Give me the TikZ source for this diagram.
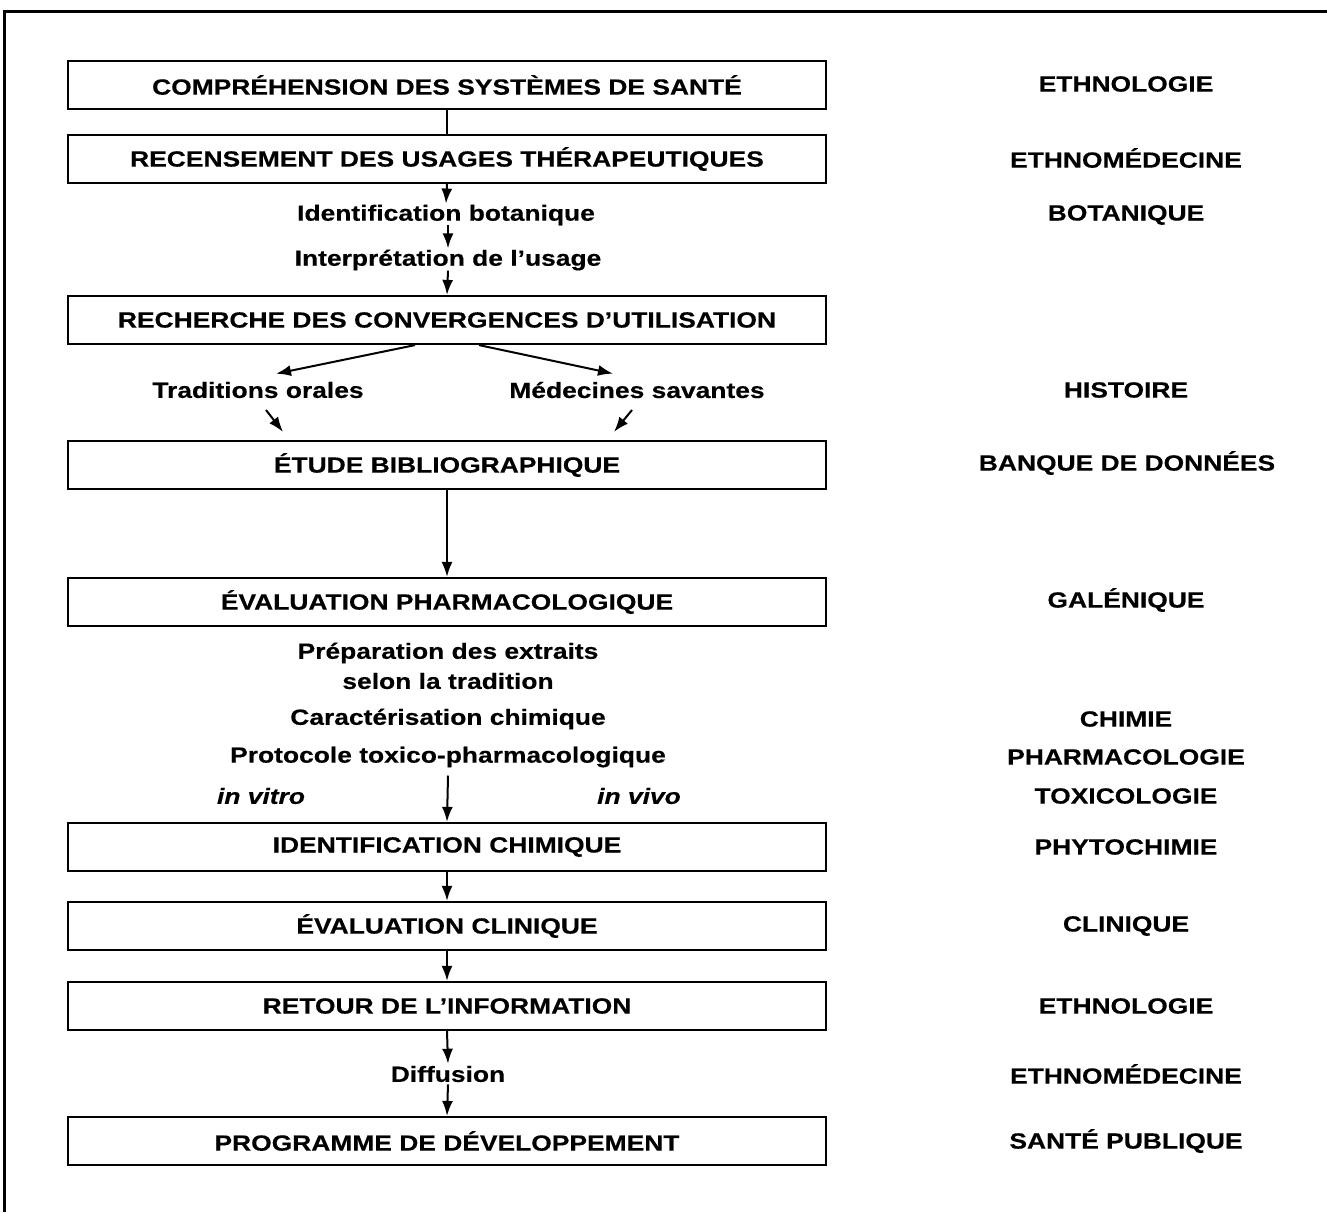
\documentclass[tikz,border=0pt]{standalone}
\usepackage{fontspec}
\setmainfont{Liberation Sans}[FakeStretch=1.2, BoldFeatures={FakeBold=0.4}, BoldItalicFeatures={FakeBold=0.4}]
\usetikzlibrary{arrows.meta}
\begin{document}
\begin{tikzpicture}[x=1pt,y=-1pt,
  txt/.style={font=\bfseries\fontsize{22}{26}\selectfont},
  box/.style={txt, draw, line width=2.2pt, minimum width=758pt, minimum height=48pt, inner sep=0pt},
  lbl/.style={txt, inner sep=0pt},
  disc/.style={txt, inner sep=0pt},
  arr/.style={-{Latex[length=15pt,width=11pt]}, line width=2pt},
  link/.style={line width=2pt},
]
\useasboundingbox (0,0) rectangle (1327,1212);
\draw[line width=3pt] (4,1212) -- (4,12) -- (1327,12);

% main column
\node[box] (b1) at (447,85) {COMPRÉHENSION DES SYSTÈMES DE SANTÉ};
\node[box] (b2) at (447,159) {RECENSEMENT DES USAGES THÉRAPEUTIQUES};
\node[lbl] (idb) at (446,215) {Identification botanique};
\node[lbl] (int) at (448,260) {Interprétation de l’usage};
\node[box] (b3) at (447,320) {RECHERCHE DES CONVERGENCES D’UTILISATION};
\node[lbl] (tro) at (258,390) {Traditions orales};
\node[lbl] (med) at (637,390) {Médecines savantes};
\node[box] (b4) at (447,465) {ÉTUDE BIBLIOGRAPHIQUE};
\node[box] (b5) at (447,602) {ÉVALUATION PHARMACOLOGIQUE};
\node[lbl] (prep1) at (448,653) {Préparation des extraits};
\node[lbl] (prep2) at (448,681) {selon la tradition};
\node[lbl] (cara) at (448,719) {Caractérisation chimique};
\node[lbl] (proto) at (448,757) {Protocole toxico-pharmacologique};
\node[lbl] (vitro) at (261,796) {\itshape in vitro};
\node[lbl] (vivo) at (639,796) {\itshape in vivo};
\node[box] (b6) at (447,847) {IDENTIFICATION CHIMIQUE};
\node[box] (b7) at (447,926) {ÉVALUATION CLINIQUE};
\node[box] (b8) at (447,1006) {RETOUR DE L’INFORMATION};
\node[lbl] (diff) at (448,1074) {Diffusion};
\node[box] (b9) at (447,1141) {PROGRAMME DE DÉVELOPPEMENT};

% disciplines
\node[disc] (d1) at (1126,84) {ETHNOLOGIE};
\node[disc] (d2) at (1126,158) {ETHNOMÉDECINE};
\node[disc] (d3) at (1126,215) {BOTANIQUE};
\node[disc] (d4) at (1126,390) {HISTOIRE};
\node[disc] (d5) at (1127,463) {BANQUE DE DONNÉES};
\node[disc] (d6) at (1126,600) {GALÉNIQUE};
\node[disc] (d7) at (1126,719) {CHIMIE};
\node[disc] (d8) at (1126,757) {PHARMACOLOGIE};
\node[disc] (d9) at (1126,796) {TOXICOLOGIE};
\node[disc] (d10) at (1126,847) {PHYTOCHIMIE};
\node[disc] (d11) at (1126,926) {CLINIQUE};
\node[disc] (d12) at (1126,1006) {ETHNOLOGIE};
\node[disc] (d13) at (1126,1074) {ETHNOMÉDECINE};
\node[disc] (d14) at (1126,1141) {SANTÉ PUBLIQUE};

% connectors
\draw[link] (b1) -- (b2);
\draw[arr] (b2.south) -- ([yshift=1pt]idb.north);
\draw[arr] ([xshift=2pt]idb.south) -- ([yshift=1pt]int.north);
\draw[arr] (int.south) -- (b3.north);
\coordinate (b3l) at ([xshift=-32pt]b3.south);
\coordinate (b3r) at ([xshift=32pt]b3.south);
\draw[arr] (b3l) -- ([xshift=18pt,yshift=8pt]tro.north);
\draw[arr] (b3r) -- ([xshift=-24pt,yshift=8pt]med.north);
\draw[arr] ([xshift=8pt,yshift=-20pt]tro.center) -- ([xshift=25pt,yshift=8pt]b4.north -| tro);
\draw[arr] ([xshift=-5pt,yshift=-20pt]med.center) -- ([xshift=-23pt,yshift=8pt]b4.north -| med);
\draw[arr] (b4) -- (b5);
\draw[arr] ([yshift=-8pt]proto.south) -- (b6.north);
\draw[arr] (b6) -- (b7);
\draw[arr] (b7) -- (b8);
\draw[arr] (b8.south) -- ([yshift=2pt]diff.north);
\draw[arr] ([yshift=-2pt]diff.south) -- (b9.north);
\end{tikzpicture}
\end{document}
